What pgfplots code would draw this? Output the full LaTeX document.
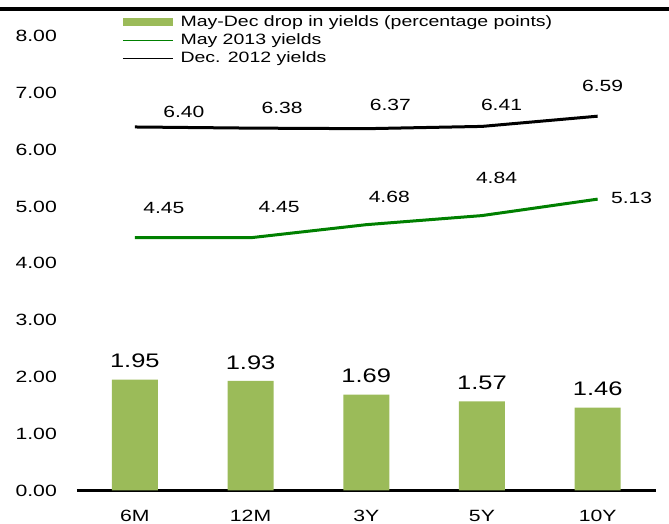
\documentclass[border=0pt]{standalone}
\usepackage{fontspec}
\setmainfont{Liberation Sans}[FakeStretch=1.3]
\usepackage{pgfplots}
\pgfplotsset{compat=1.18}
\definecolor{barg}{HTML}{9BBB59}
\definecolor{lineg}{RGB}{0,128,0}
\begin{document}
\begin{tikzpicture}
\begin{axis}[
  scale only axis, width=578.5pt, height=454.4pt,
  xmin=-0.5, xmax=4.5, ymin=0, ymax=8,
  axis x line*=bottom, axis y line*=left,
  y axis line style={draw=none},
  x axis line style={line width=2.5pt, -},
  major tick length=0pt,
  xtick={0,...,4}, xticklabels={6M,12M,3Y,5Y,10Y},
  ytick={0,...,8},
  /pgf/number format/assume math mode=true,
  y tick label style={/pgf/number format/fixed, /pgf/number format/fixed zerofill, /pgf/number format/precision=2},
  tick label style={font=\fontsize{16.3}{19}\selectfont, inner sep=0pt},
  xticklabel style={anchor=center, yshift=-25.3pt},
  yticklabel style={anchor=east, xshift=-20pt},
  clip=false,
  legend style={draw=none, fill=none, at={(axis description cs:0.0778,1.0456)}, anchor=north west,
    inner sep=0pt, outer sep=0pt, font=\fontsize{15}{18}\selectfont, row sep=3.7pt, column sep=7pt,
    nodes={inner sep=0pt, text height=11pt, text depth=3.2pt}},
  legend cell align=left,
]
\addplot[ybar, bar width=46pt, bar shift=0pt, fill=barg, draw=none,
  nodes near coords={\pgfmathprintnumber[fixed,fixed zerofill,precision=2]{\pgfplotspointmeta}},
  nodes near coords style={font=\fontsize{19.6}{22}\selectfont, anchor=center, yshift=18.5pt, text=black},
  legend image code/.code={\fill[barg] (0pt,-4pt) rectangle (50pt,4pt);}]
 coordinates {(0,1.95) (1,1.93) (2,1.69) (3,1.57) (4,1.46)};
\addlegendentry{May-Dec drop in yields (percentage points)}
\addplot[lineg, line width=3pt, mark=none,
  legend image code/.code={\draw[lineg, line width=1.5pt] (0pt,0pt) -- (50pt,0pt);}]
 coordinates {(0,4.45) (1,4.45) (2,4.68) (3,4.84) (4,5.13)};
\addlegendentry{May 2013 yields}
\addplot[black, line width=3pt, mark=none,
  legend image code/.code={\draw[black, line width=1.5pt] (0pt,0pt) -- (50pt,0pt);}]
 coordinates {(0,6.40) (1,6.38) (2,6.37) (3,6.41) (4,6.59)};
\addlegendentry{Dec. 2012 yields}
\begin{scope}[every node/.style={font=\fontsize{16.2}{19}\selectfont, inner sep=0pt}]
\node at (axis cs:0.424,6.664) {6.40};
\node at (axis cs:1.273,6.734) {6.38};
\node at (axis cs:2.208,6.787) {6.37};
\node at (axis cs:3.169,6.787) {6.41};
\node at (axis cs:4.043,7.121) {6.59};
\node at (axis cs:0.251,4.974) {4.45};
\node at (axis cs:1.247,4.996) {4.45};
\node at (axis cs:2.199,5.173) {4.68};
\node at (axis cs:3.126,5.502) {4.84};
\node at (axis cs:4.294,5.150) {5.13};
\end{scope}
\end{axis}
\draw[line width=3.5pt] (-77pt,481.5pt) -- (592pt,481.5pt);
\pgfresetboundingbox
\useasboundingbox (-77pt,-33.5pt) rectangle (592pt,490.5pt);
\end{tikzpicture}
\end{document}
